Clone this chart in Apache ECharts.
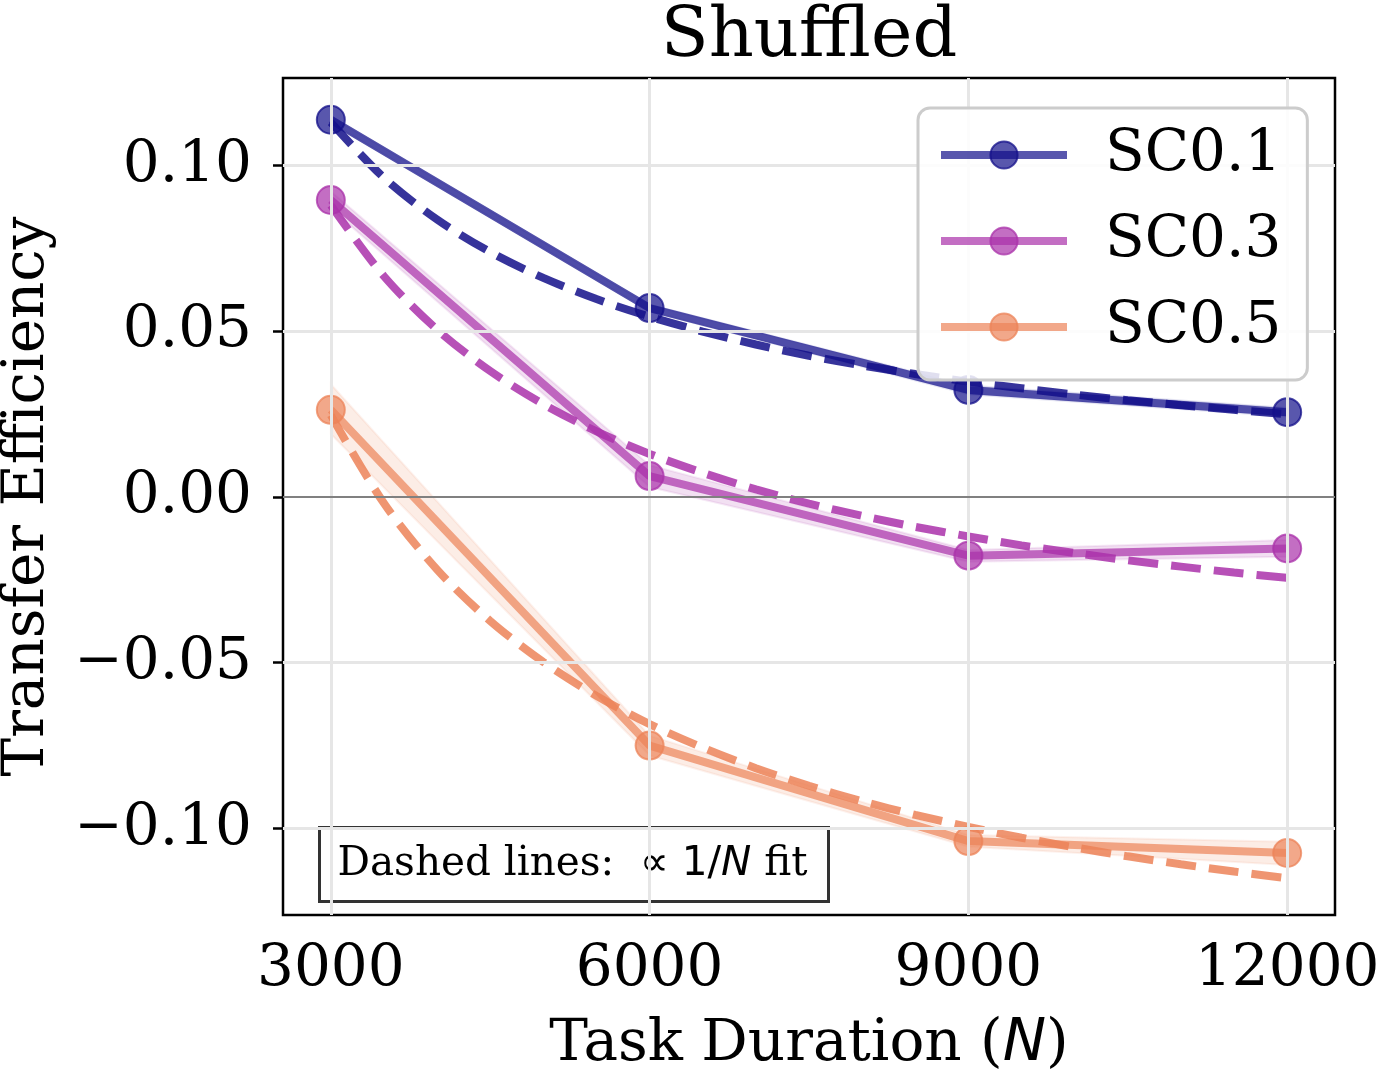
<!DOCTYPE html>
<html>
<head>
<meta charset="utf-8">
<script src="https://cdn.jsdelivr.net/npm/echarts@6/dist/echarts.min.js"></script>
<style>html,body{margin:0;padding:0;background:#fff}#c{width:1377px;height:1074px}</style>
</head>
<body>
<div id="c"></div>
<script>
// ---- data ----
const durations = [3000, 6000, 9000, 12000];
const sc01 = [0.1138, 0.0570, 0.0323, 0.0256];
const sc03 = [0.0896, 0.0063, -0.0177, -0.0155];
const sc05 = [0.0263, -0.0750, -0.1038, -0.1074];
const sc01Lo = [0.1128, 0.0560, 0.0310, 0.0243];
const sc01Hi = [0.1148, 0.0580, 0.0336, 0.0269];
const sc03Lo = [0.0870, 0.0030, -0.0195, -0.0180];
const sc03Hi = [0.0922, 0.0096, -0.0160, -0.0130];
const sc05Lo = [0.0190, -0.0780, -0.1055, -0.1110];
const sc05Hi = [0.0340, -0.0720, -0.1020, -0.1040];
const fitN = [3000, 3500, 4000, 4500, 5000, 5500, 6000, 6500, 7000, 7500, 8000, 8500, 9000, 9500, 10000, 10500, 11000, 11500, 12000];
const fit01 = [0.1130, 0.0963, 0.0837, 0.0739, 0.0661, 0.0597, 0.0544, 0.0499, 0.0460, 0.0426, 0.0397, 0.0371, 0.0348, 0.0328, 0.0309, 0.0292, 0.0277, 0.0263, 0.0250];
const fit03 = [0.0880, 0.0666, 0.0505, 0.0380, 0.0280, 0.0198, 0.0130, 0.0073, 0.0023, -0.0020, -0.0057, -0.0090, -0.0119, -0.0146, -0.0169, -0.0191, -0.0210, -0.0228, -0.0244];
const fit05 = [0.0247, -0.0019, -0.0219, -0.0374, -0.0498, -0.0600, -0.0685, -0.0756, -0.0818, -0.0871, -0.0918, -0.0959, -0.0995, -0.1028, -0.1057, -0.1084, -0.1108, -0.1130, -0.1150];
const xTicks = [3000, 6000, 9000, 12000];
const yTicks = [-0.10, -0.05, 0.00, 0.05, 0.10];
const names = ['SC0.1', 'SC0.3', 'SC0.5'];

const base = ['19,15,138', '170,49,170', '236,131,88'];
const serif = '"DejaVu Serif", serif';
const FS = 58;

const zip = (xs, ys) => xs.map((x, i) => [x, ys[i]]);

function bandSeries(lo, hi, rgb) {
  return {
    type: 'custom', name: 'band', silent: true, z: 1,
    data: [[durations[0], lo[0]]],
    renderItem: function (params, api) {
      const pts = [];
      for (let i = 0; i < durations.length; i++) pts.push(api.coord([durations[i], hi[i]]));
      for (let i = durations.length - 1; i >= 0; i--) pts.push(api.coord([durations[i], lo[i]]));
      return { type: 'polygon', shape: { points: pts }, style: { fill: 'rgba(' + rgb + ',0.15)', stroke: 'rgba(' + rgb + ',0.1)', lineWidth: 2 } };
    }
  };
}

function mainSeries(name, vals, rgb) {
  return {
    type: 'line', name: name, z: 3,
    data: zip(durations, vals),
    symbol: 'circle', symbolSize: 28,
    lineStyle: { color: 'rgba(' + rgb + ',0.7)', width: 8 },
    itemStyle: { color: 'rgba(' + rgb + ',0.7)', borderColor: 'rgba(' + rgb + ',0.75)', borderWidth: 2 },
    emphasis: { disabled: true }
  };
}

function fitSeries(vals, rgb) {
  return {
    type: 'line', name: 'fit', z: 4,
    data: zip(fitN, vals),
    symbol: 'none', smooth: 0.3,
    lineStyle: { color: 'rgba(' + rgb + ',0.85)', width: 8, type: [30, 13] },
    emphasis: { disabled: true }
  };
}

const gridLineStyle = { color: '#e6e6e6', width: 3, type: 'solid' };

const option = {
  animation: false,
  title: {
    text: 'Shuffled', left: 809, textAlign: 'center', top: 3,
    textStyle: { fontFamily: serif, fontWeight: 'normal', fontSize: 70, color: '#000' },
    padding: 0
  },
  grid: { left: 283, right: 42, top: 78, bottom: 159, outerBoundsMode: 'none', containLabel: false, show: true, borderColor: '#000', borderWidth: 2.5, backgroundColor: 'transparent' },
  xAxis: {
    type: 'value', min: 2550, max: 12450,
    axisLine: { show: false },
    splitLine: { show: false },
    axisTick: { show: true, customValues: xTicks, length: 10, lineStyle: { color: '#000', width: 2.5 } },
    axisLabel: { customValues: xTicks, margin: 26, fontFamily: serif, fontSize: FS, color: '#000', formatter: v => String(v) },
    name: 'Task Duration ({i|N})', nameLocation: 'middle', nameGap: 101,
    nameTextStyle: { fontFamily: serif, fontSize: FS, color: '#000', rich: { i: { fontFamily: '"DejaVu Sans", sans-serif', fontStyle: 'italic', fontSize: FS, color: '#000' } } }
  },
  yAxis: {
    type: 'value', min: -0.1261, max: 0.1264,
    axisLine: { show: false },
    splitLine: { show: false },
    axisTick: { show: true, customValues: yTicks, length: 10, lineStyle: { color: '#000', width: 2.5 } },
    axisLabel: { customValues: yTicks, margin: 31, fontFamily: serif, fontSize: FS, color: '#000',
      formatter: v => (v < -1e-9 ? '\u2212' : '') + Math.abs(v).toFixed(2) },
    name: 'Transfer Efficiency', nameLocation: 'middle', nameGap: 226,
    nameTextStyle: { fontFamily: serif, fontSize: FS, color: '#000' }
  },
  legend: {
    data: names, orient: 'vertical', left: 918, top: 108,
    padding: [18, 26, 24, 19], itemGap: 28, itemWidth: 126, itemHeight: 34,
    backgroundColor: 'rgba(255,255,255,0.85)', borderColor: '#cccccc', borderWidth: 3, borderRadius: 12,
    lineStyle: { width: 8 },
    textStyle: { fontFamily: serif, fontSize: FS, color: '#000', padding: [0, 0, 0, 33] },
    selectedMode: false, z: 20
  },
  series: [
    {
      type: 'line', name: 'grid', data: [], z: 0, silent: true,
      markLine: {
        silent: true, symbol: 'none', label: { show: false }, lineStyle: gridLineStyle, animation: false,
        data: xTicks.map(x => ({ xAxis: x })).concat(yTicks.filter(y => y !== 0).map(y => ({ yAxis: y })))
      }
    },
    {
      type: 'line', name: 'zero', data: [], z: 1, silent: true,
      markLine: {
        silent: true, symbol: 'none', label: { show: false }, animation: false,
        lineStyle: { color: '#808080', width: 2, type: 'solid' },
        data: [{ yAxis: 0 }]
      }
    },
    bandSeries(sc01Lo, sc01Hi, base[0]),
    bandSeries(sc03Lo, sc03Hi, base[1]),
    bandSeries(sc05Lo, sc05Hi, base[2]),
    mainSeries(names[0], sc01, base[0]),
    fitSeries(fit01, base[0]),
    mainSeries(names[1], sc03, base[1]),
    fitSeries(fit03, base[1]),
    mainSeries(names[2], sc05, base[2]),
    fitSeries(fit05, base[2])
  ],
  graphic: [
    {
      type: 'group', left: 318, top: 826, z: 100,
      children: [
        { type: 'rect', shape: { x: 0, y: 0, width: 509, height: 74 }, style: { fill: '#fff', stroke: '#333', lineWidth: 3 } },
        { type: 'text', x: 18, y: 37, style: {
          text: '{s|Dashed lines:  }{m|\u221d 1/}{i|N}{s| fit}', verticalAlign: 'middle', align: 'left',
          rich: {
            s: { fontFamily: serif, fontSize: 40.5, fill: '#000' },
            m: { fontFamily: '"DejaVu Sans", sans-serif', fontSize: 40.5, fill: '#000' },
            i: { fontFamily: '"DejaVu Sans", sans-serif', fontStyle: 'italic', fontSize: 40.5, fill: '#000' }
          }
        } }
      ]
    }
  ]
};

const chart = echarts.init(document.getElementById('c'), null, { renderer: 'canvas' });
chart.setOption(option);
</script>
</body>
</html>
